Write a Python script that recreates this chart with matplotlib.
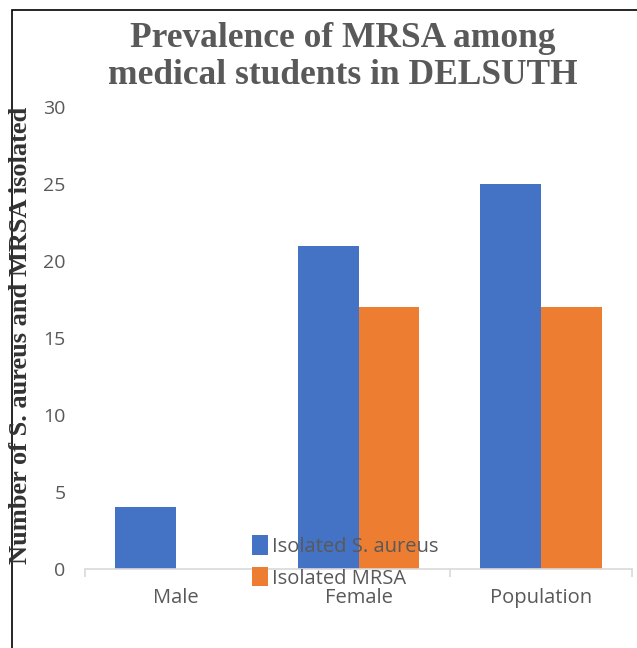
import matplotlib.pyplot as plt
import numpy as np
from matplotlib.patches import Rectangle

categories = ['Male', 'Female', 'Population']
s_aureus = [4, 21, 25]
mrsa = [0, 17, 17]
series_names = ['Isolated S. aureus', 'Isolated MRSA']
colors = ['#4472C4', '#ED7D31']

W, H = 637, 648
fig = plt.figure(figsize=(W / 100, H / 100), dpi=100)

# axes placed to match the reference pixel frame
ax = fig.add_axes([85 / W, (H - 569) / H, (632 - 85) / W, (569 - 107) / H])

x = np.arange(len(categories))
bw = 0.333
ax.bar(x - bw / 2, s_aureus, bw, color=colors[0], label=series_names[0])
ax.bar(x + bw / 2, mrsa, bw, color=colors[1], label=series_names[1])

ax.set_xlim(-0.5, len(categories) - 0.5)
ax.set_ylim(0, 30)
ax.set_yticks(range(0, 31, 5))
ax.set_xticks(x)
ax.set_xticklabels(categories)

for s in ['top', 'right', 'left']:
    ax.spines[s].set_visible(False)
ax.spines['bottom'].set_color('#D9D9D9')
ax.spines['bottom'].set_linewidth(1.2)

ax.tick_params(axis='y', length=0, pad=14, labelsize=14, labelcolor='#595959')
ax.tick_params(axis='x', length=0, pad=14, labelsize=14.5, labelcolor='#595959')
# category boundary ticks
ax.set_xticks(np.arange(-0.5, len(categories)), minor=True)
ax.tick_params(axis='x', which='minor', length=6, color='#D9D9D9', width=1.2)

for lbl in ax.get_xticklabels() + ax.get_yticklabels():
    lbl.set_family('Open Sans')

ax.legend(loc='center', bbox_to_anchor=(345 / W, (H - 562) / H),
          bbox_transform=fig.transFigure, frameon=False,
          prop={'family': 'Open Sans', 'size': 14.5},
          handlelength=0.8, handleheight=1.1, handletextpad=0.2,
          labelspacing=0.5, labelcolor='#595959', borderpad=0)

fig.text(343 / W, (H - 57) / H,
         'Prevalence of MRSA among\nmedical students in DELSUTH',
         ha='center', va='center', family='Liberation Serif',
         fontweight='bold', fontsize=25.5, color='#595959', linespacing=1.15)

fig.text(21 / W, (H - 335) / H, 'Number of S. aureus and MRSA isolated',
         rotation=90, ha='center', va='center', family='Liberation Serif',
         fontweight='bold', fontsize=19, color='#333333')

# outer frame (left and top edges visible in the reference)
fig.patches.append(Rectangle((12 / W, -0.1), 1.2, (H - 10) / H + 0.1,
                             transform=fig.transFigure, fill=False,
                             edgecolor='black', linewidth=1.2))

fig.savefig('out.png', dpi=100)
